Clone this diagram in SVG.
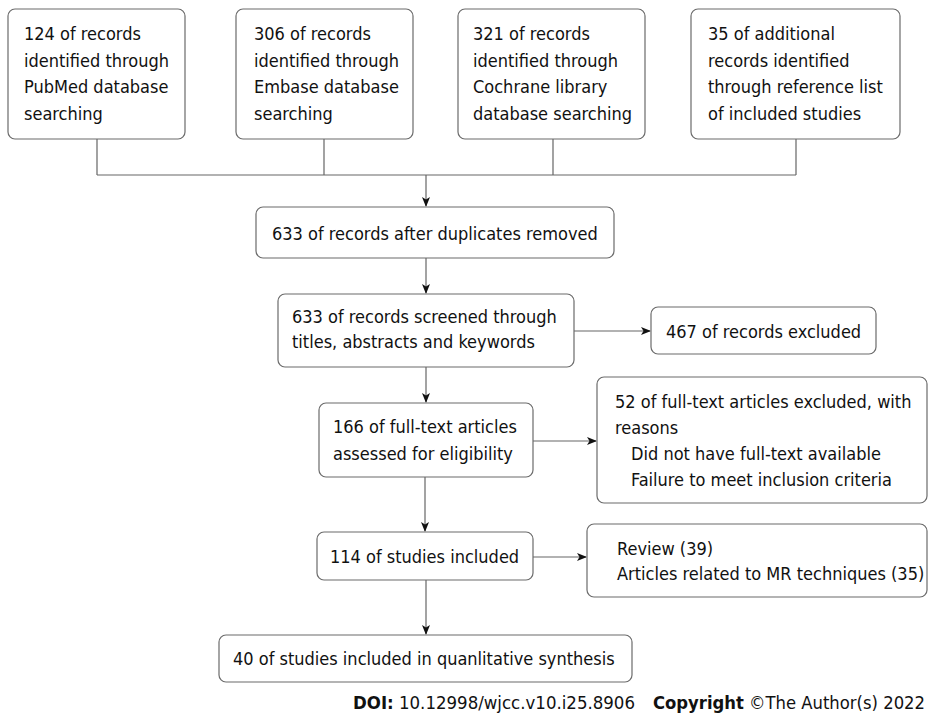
<svg xmlns="http://www.w3.org/2000/svg" width="928" height="717" viewBox="0 0 928 717">
<style>
.box{fill:#fff;stroke:#6b6b6b;stroke-width:1.2}
.t{font-family:"DejaVu Sans Condensed","DejaVu Sans",sans-serif;font-stretch:condensed;font-size:18px;fill:#111}
.f{font-family:"DejaVu Sans Condensed","DejaVu Sans",sans-serif;font-stretch:condensed;font-size:18px;fill:#111}
.b{font-weight:bold}
.ln{fill:none;stroke:#666;stroke-width:1.2}
</style>
<defs>
<marker id="ah" markerWidth="10" markerHeight="8" refX="9" refY="4" orient="auto" markerUnits="userSpaceOnUse">
<path d="M0,0 L10,4 L0,8 L2.5,4 z" fill="#111"/>
</marker>
</defs>
<rect width="928" height="717" fill="#fff"/>
<g id="connectors">
<path class="ln" d="M97,139 V175 M324,139 V175 M553,139 V175 M796,139 V175 M97,175 H796"/>
<path class="ln" d="M426,175 V206" marker-end="url(#ah)"/>
<path class="ln" d="M426,258 V293" marker-end="url(#ah)"/>
<path class="ln" d="M574,331 H650" marker-end="url(#ah)"/>
<path class="ln" d="M426,367 V402" marker-end="url(#ah)"/>
<path class="ln" d="M533,441 H596" marker-end="url(#ah)"/>
<path class="ln" d="M425,477 V531" marker-end="url(#ah)"/>
<path class="ln" d="M533,557 H586" marker-end="url(#ah)"/>
<path class="ln" d="M426,580 V634" marker-end="url(#ah)"/>
</g>
<g id="pubmed">
<rect class="box" x="8" y="9" width="177" height="130" rx="7"/>
<text class="t"><tspan x="24" y="40">124 of records</tspan><tspan x="24" y="67">identified through</tspan><tspan x="24" y="93">PubMed database</tspan><tspan x="24" y="120">searching</tspan></text>
</g>
<g id="embase">
<rect class="box" x="236" y="9" width="177" height="130" rx="7"/>
<text class="t"><tspan x="254" y="40">306 of records</tspan><tspan x="254" y="67">identified through</tspan><tspan x="254" y="93">Embase database</tspan><tspan x="254" y="120">searching</tspan></text>
</g>
<g id="cochrane">
<rect class="box" x="458" y="9" width="187" height="130" rx="7"/>
<text class="t"><tspan x="473" y="40">321 of records</tspan><tspan x="473" y="67">identified through</tspan><tspan x="473" y="93">Cochrane library</tspan><tspan x="473" y="120">database searching</tspan></text>
</g>
<g id="additional">
<rect class="box" x="691" y="9" width="209" height="130" rx="7"/>
<text class="t"><tspan x="708" y="40">35 of additional</tspan><tspan x="708" y="67">records identified</tspan><tspan x="708" y="93">through reference list</tspan><tspan x="708" y="120">of included studies</tspan></text>
</g>
<g id="duplicates">
<rect class="box" x="256" y="207" width="358" height="51" rx="7"/>
<text class="t" x="272" y="240">633 of records after duplicates removed</text>
</g>
<g id="screened">
<rect class="box" x="278" y="294" width="296" height="73" rx="7"/>
<text class="t"><tspan x="292" y="323">633 of records screened through</tspan><tspan x="292" y="348">titles, abstracts and keywords</tspan></text>
</g>
<g id="excluded467">
<rect class="box" x="651" y="307" width="225" height="47" rx="7"/>
<text class="t" x="666" y="338">467 of records excluded</text>
</g>
<g id="fulltext">
<rect class="box" x="319" y="403" width="214" height="74" rx="7"/>
<text class="t"><tspan x="333" y="433">166 of full-text articles</tspan><tspan x="333" y="460">assessed for eligibility</tspan></text>
</g>
<g id="excluded52">
<rect class="box" x="597" y="377" width="330" height="126" rx="7"/>
<text class="t"><tspan x="615" y="408">52 of full-text articles excluded, with</tspan><tspan x="615" y="434">reasons</tspan><tspan x="631" y="460">Did not have full-text available</tspan><tspan x="631" y="486">Failure to meet inclusion criteria</tspan></text>
</g>
<g id="included114">
<rect class="box" x="317" y="532" width="216" height="48" rx="7"/>
<text class="t" x="330" y="563">114 of studies included</text>
</g>
<g id="reviews">
<rect class="box" x="587" y="524" width="340" height="73" rx="7"/>
<text class="t"><tspan x="617" y="555">Review (39)</tspan><tspan x="617" y="580">Articles related to MR techniques (35)</tspan></text>
</g>
<g id="synthesis">
<rect class="box" x="219" y="635" width="413" height="47" rx="7"/>
<text class="t" x="233" y="665">40 of studies included in quanlitative synthesis</text>
</g>
<g id="footer">
<text class="f" x="353" y="709" textLength="282" lengthAdjust="spacingAndGlyphs"><tspan class="b">DOI:</tspan> 10.12998/wjcc.v10.i25.8906</text>
<text class="f" x="653" y="709" textLength="272" lengthAdjust="spacingAndGlyphs"><tspan class="b">Copyright</tspan> ©The Author(s) 2022</text>
</g>
</svg>
